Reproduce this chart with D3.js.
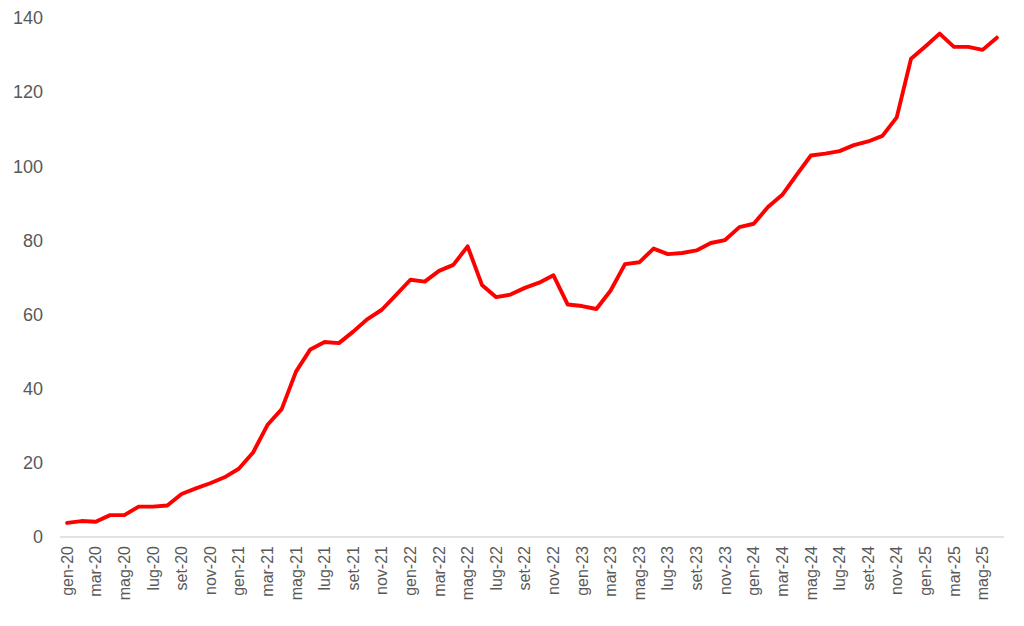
<!DOCTYPE html>
<html>
<head>
<meta charset="utf-8">
<script src="https://cdn.jsdelivr.net/npm/d3@7"></script>
<style>
  html, body { margin: 0; padding: 0; background: #fff; }
  svg { display: block; font-family: "Liberation Sans", Arial, sans-serif; }
</style>
</head>
<body>
<svg id="chart" width="1024" height="626"></svg>
<script>
const monthNames = ["gen","feb","mar","apr","mag","giu","lug","ago","set","ott","nov","dic"];
const years = ["20","21","22","23","24","25"];
const categories = [];
years.forEach(y => monthNames.forEach(m => categories.push(m + "-" + y)));
categories.length = 66; // gen-20 .. giu-25

const values = [
  3.8, 4.3, 4.1, 5.9, 5.9, 8.2, 8.2, 8.5, 11.6, 13.1, 14.5, 16.1,
  18.4, 22.8, 30.2, 34.5, 44.6, 50.6, 52.6, 52.3, 55.4, 58.8, 61.3, 65.3,
  69.4, 68.9, 71.8, 73.4, 78.4, 68.0, 64.7, 65.4, 67.2, 68.6, 70.6, 62.7,
  62.3, 61.5, 66.5, 73.6, 74.1, 77.8, 76.3, 76.6, 77.3, 79.3, 80.1, 83.6,
  84.5, 89.0, 92.3, 97.7, 102.9, 103.4, 104.1, 105.7, 106.7, 108.2, 113.2, 129.0,
  132.3, 135.8, 132.2, 132.2, 131.4, 134.7
];

const yTicks = [0, 20, 40, 60, 80, 100, 120, 140];

const svg = d3.select("#chart");
const x = d3.scaleBand().domain(categories).range([60, 1004]);
const y = d3.scaleLinear().domain([0, 140]).range([537, 18]);

// baseline
svg.append("line")
  .attr("x1", 60).attr("x2", 1004)
  .attr("y1", y(0)).attr("y2", y(0))
  .attr("stroke", "#d9d9d9").attr("stroke-width", 1.3);

// y axis labels
const yAxis = d3.axisLeft(y).tickValues(yTicks).tickSize(0).tickPadding(0);
const gy = svg.append("g").attr("transform", "translate(43,0)").call(yAxis);
gy.select(".domain").remove();
gy.selectAll("text")
  .attr("fill", "#595959")
  .style("font-size", "18px")
  .style("font-family", "'Liberation Sans', Arial, sans-serif");

// x axis labels (every other month)
const xLabels = categories.filter((d, i) => i % 2 === 0 && i < 65);
const xAxis = d3.axisBottom(x).tickValues(xLabels).tickSize(0).tickPadding(0);
const gx = svg.append("g").attr("transform", "translate(0,546)").call(xAxis);
gx.select(".domain").remove();
gx.selectAll("text")
  .attr("fill", "#595959")
  .style("font-size", "16px")
  .style("font-family", "'Liberation Sans', Arial, sans-serif")
  .attr("text-anchor", "end")
  .attr("transform", "rotate(-90)")
  .attr("x", 0)
  .attr("y", 0)
  .attr("dy", "0.35em");

// line
const line = d3.line()
  .x((d, i) => x(categories[i]) + x.bandwidth() / 2)
  .y(d => y(d));

svg.append("path")
  .datum(values)
  .attr("fill", "none")
  .attr("stroke", "#ff0000")
  .attr("stroke-width", 3.9)
  .attr("stroke-linejoin", "round")
  .attr("stroke-linecap", "round")
  .attr("d", line);
</script>
</body>
</html>
